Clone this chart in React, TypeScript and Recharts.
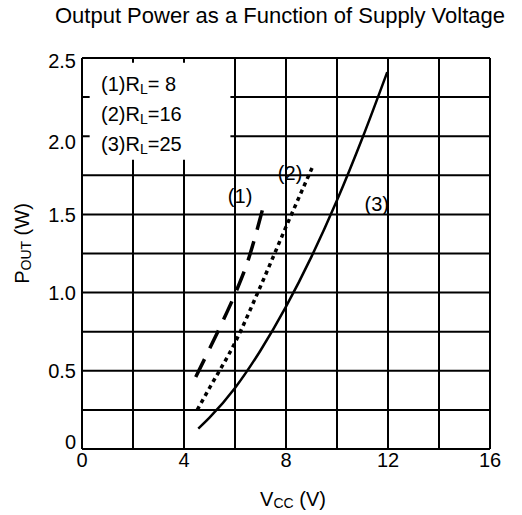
import { LineChart, Line, XAxis, YAxis, CartesianGrid, ReferenceArea, ReferenceDot, Label } from 'recharts';

// curve (1) RL = 8
const vcc1 = [4.46, 5.0, 5.5, 6.0, 6.5, 7.11];
const pout1 = [0.46, 0.64, 0.81, 0.99, 1.2, 1.55];
// curve (2) RL = 16
const vcc2 = [4.52, 5.0, 6.0, 7.0, 8.0, 9.03];
const pout2 = [0.25, 0.39, 0.68, 1.04, 1.42, 1.8];
// curve (3) RL = 25
const vcc3 = [4.56, 5.0, 6.0, 7.0, 8.0, 9.0, 10.0, 11.0, 11.97];
const pout3 = [0.13, 0.2, 0.39, 0.63, 0.91, 1.23, 1.59, 1.99, 2.41];

const xTicks = [0, 2, 4, 6, 8, 10, 12, 14, 16];
const yTicks = [0, 0.25, 0.5, 0.75, 1, 1.25, 1.5, 1.75, 2, 2.25, 2.5];
const legendLines = [
  { idx: '(1)', r: '= 8' },
  { idx: '(2)', r: '=16' },
  { idx: '(3)', r: '=25' },
];
const curveLabels = [
  { text: '(1)', v: 6.2, p: 1.62 },
  { text: '(2)', v: 8.16, p: 1.765 },
  { text: '(3)', v: 11.56, p: 1.57 },
];

const toRows = (xs: number[], ys: number[]) => xs.map((v, i) => ({ v, p: ys[i] }));
const series = [
  { data: toRows(vcc1, pout1), dash: '20 12', width: 3.5 },
  { data: toRows(vcc2, pout2), dash: '4 4', width: 3.5 },
  { data: toRows(vcc3, pout3), dash: undefined, width: 2.5 },
];

const FONT = '"Liberation Sans", Arial, sans-serif';

const YTick = ({ x, y, payload }: any) => {
  const v = payload.value;
  if (Math.round(v * 100) % 50 !== 0) return <g />;
  const shift = v === 0 ? -7 : v === 2 ? 6 : v === 2.5 ? 3 : 0;
  return (
    <text x={x} y={y + shift} dy="0.355em" textAnchor="end" fontSize={20} fontFamily={FONT} fill="#000">
      {v === 0 ? '0' : v.toFixed(1)}
    </text>
  );
};

export default function App() {
  return (
    <div style={{ position: 'absolute', left: 0, top: 0, width: 522, height: 515, background: '#fff', fontFamily: FONT }}>
      <div style={{ position: 'absolute', left: 0, width: 560, top: 3, textAlign: 'center', fontSize: 22, color: '#000', whiteSpace: 'nowrap' }}>
        Output Power as a Function of Supply Voltage
      </div>
      <LineChart width={522} height={515} margin={{ top: 58, right: 32, bottom: 0, left: 0 }}>
        <CartesianGrid stroke="#000" strokeWidth={2} />
        <XAxis
          type="number"
          dataKey="v"
          domain={[0, 16]}
          ticks={xTicks}
          height={66}
          tickLine={false}
          tickSize={0}
          tickMargin={4}
          axisLine={{ stroke: '#000', strokeWidth: 2 }}
          tick={{ fontSize: 20, fill: '#000', fontFamily: FONT }}
          tickFormatter={(v: number) => (v % 4 === 0 ? String(v) : '')}
          allowDuplicatedCategory={false}
        >
          <Label
            content={({ viewBox }: any) => (
              <text x={viewBox.x + viewBox.width / 2 + 7} y={viewBox.y + 57} textAnchor="middle" fontSize={20} fontFamily={FONT} fill="#000">
                V<tspan fontSize={14} dy={2}>CC</tspan>
                <tspan dy={-2}> (V)</tspan>
              </text>
            )}
          />
        </XAxis>
        <YAxis
          type="number"
          domain={[0, 2.5]}
          ticks={yTicks}
          width={82}
          tickLine={false}
          tickSize={0}
          tickMargin={6}
          axisLine={{ stroke: '#000', strokeWidth: 2 }}
          tick={<YTick />}
        >
          <Label
            content={({ viewBox }: any) => {
              const cx = 29;
              const cy = viewBox.y + viewBox.height / 2 - 10;
              return (
                <text x={cx} y={cy} transform={`rotate(-90 ${cx} ${cy})`} textAnchor="middle" fontSize={20} fontFamily={FONT} fill="#000">
                  P<tspan fontSize={14} dy={2}>OUT</tspan>
                  <tspan dy={-2}> (W)</tspan>
                </text>
              );
            }}
          />
        </YAxis>
        <ReferenceArea x1={0.3} x2={5.82} y1={1.85} y2={2.47} fill="#fff" fillOpacity={1} stroke="none" />
        {series.map((s, i) => (
          <Line
            key={i}
            data={s.data}
            dataKey="p"
            type="monotone"
            stroke="#000"
            strokeWidth={s.width}
            strokeDasharray={s.dash}
            dot={false}
            activeDot={false}
            isAnimationActive={false}
          />
        ))}
        {curveLabels.map((c) => (
          <ReferenceDot
            key={c.text}
            x={c.v}
            y={c.p}
            r={0}
            fill="none"
            stroke="none"
            label={{ value: c.text, position: 'center', fontSize: 20, fill: '#000', fontFamily: FONT }}
          />
        ))}
      </LineChart>
      <div style={{ position: 'absolute', left: 101, top: 70, fontSize: 20, lineHeight: '28px', color: '#000' }}>
        {legendLines.map((l) => (
          <div key={l.idx} style={{ whiteSpace: 'nowrap' }}>
            {l.idx}R<span style={{ fontSize: 14, position: 'relative', top: 3 }}>L</span>
            {l.r}
          </div>
        ))}
      </div>
    </div>
  );
}
